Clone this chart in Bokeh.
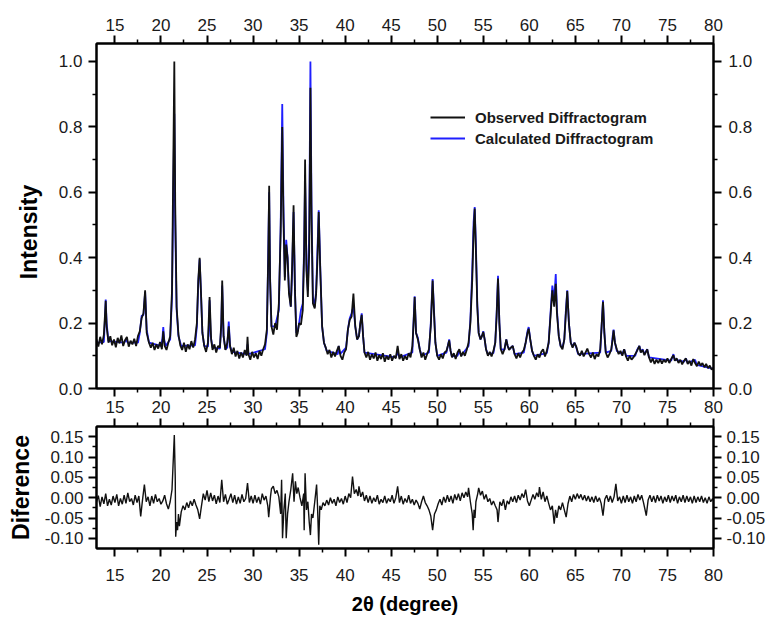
from bokeh.plotting import figure
from bokeh.layouts import column
from bokeh.models import (LinearAxis, Range1d, FixedTicker, Legend, LegendItem,
                          PrintfTickFormatter)
from bokeh.embed import file_html
from bokeh.resources import INLINE

# ---------------- data ----------------
x_ticks = [15, 20, 25, 30, 35, 40, 45, 50, 55, 60, 65, 70, 75, 80]
x_minor = [17.5, 22.5, 27.5, 32.5, 37.5, 42.5, 47.5, 52.5, 57.5, 62.5, 67.5, 72.5, 77.5]
int_ticks = [0.0, 0.2, 0.4, 0.6, 0.8, 1.0]
int_minor = [0.1, 0.3, 0.5, 0.7, 0.9]
diff_ticks = [-0.10, -0.05, 0.00, 0.05, 0.10, 0.15]
diff_minor = [-0.075, -0.025, 0.025, 0.075, 0.125]

observed = [
    (13.0, 0.150), (13.2, 0.128), (13.4, 0.158), (13.6, 0.135), (13.8, 0.165), (13.9, 0.215), (14.0, 0.268), (14.1, 0.190), (14.3, 0.140), (14.5, 0.160),
    (14.7, 0.132), (14.9, 0.150), (15.1, 0.126), (15.3, 0.155), (15.5, 0.138), (15.7, 0.162), (15.9, 0.130), (16.1, 0.148), (16.3, 0.158), (16.5, 0.128),
    (16.7, 0.146), (16.9, 0.135), (17.1, 0.152), (17.3, 0.130), (17.5, 0.160), (17.7, 0.175), (17.9, 0.215), (18.1, 0.230), (18.28, 0.300), (18.45, 0.170),
    (18.7, 0.140), (18.9, 0.125), (19.1, 0.140), (19.3, 0.118), (19.5, 0.135), (19.7, 0.122), (19.9, 0.142), (20.1, 0.120), (20.25, 0.175), (20.4, 0.130),
    (20.6, 0.118), (20.8, 0.140), (21.0, 0.160), (21.2, 0.300), (21.35, 0.720), (21.45, 1.000), (21.55, 0.560), (21.7, 0.250), (21.9, 0.165), (22.1, 0.132),
    (22.3, 0.118), (22.5, 0.140), (22.7, 0.112), (22.9, 0.135), (23.1, 0.120), (23.3, 0.145), (23.5, 0.125), (23.7, 0.150), (23.9, 0.200), (24.05, 0.330),
    (24.2, 0.400), (24.35, 0.290), (24.5, 0.170), (24.7, 0.130), (24.9, 0.112), (25.1, 0.140), (25.28, 0.280), (25.45, 0.150), (25.6, 0.118), (25.8, 0.135),
    (26.0, 0.110), (26.2, 0.130), (26.4, 0.125), (26.55, 0.200), (26.65, 0.330), (26.8, 0.160), (27.0, 0.118), (27.2, 0.140), (27.36, 0.190), (27.5, 0.130),
    (27.7, 0.105), (27.9, 0.125), (28.1, 0.098), (28.3, 0.115), (28.5, 0.092), (28.7, 0.110), (28.9, 0.095), (29.1, 0.118), (29.3, 0.100), (29.4, 0.158),
    (29.5, 0.105), (29.7, 0.088), (29.9, 0.112), (30.1, 0.095), (30.3, 0.108), (30.5, 0.090), (30.7, 0.115), (30.9, 0.100), (31.1, 0.120), (31.3, 0.135),
    (31.5, 0.180), (31.65, 0.400), (31.75, 0.620), (31.85, 0.330), (32.0, 0.190), (32.2, 0.165), (32.4, 0.200), (32.6, 0.180), (32.8, 0.260), (33.0, 0.480),
    (33.17, 0.800), (33.3, 0.520), (33.45, 0.330), (33.6, 0.440), (33.75, 0.400), (33.9, 0.290), (34.1, 0.250), (34.25, 0.380), (34.4, 0.560), (34.55, 0.300),
    (34.7, 0.158), (34.85, 0.170), (35.0, 0.200), (35.2, 0.195), (35.4, 0.240), (35.55, 0.420), (35.65, 0.700), (35.8, 0.360), (35.95, 0.280), (36.1, 0.420),
    (36.23, 0.920), (36.35, 0.520), (36.5, 0.260), (36.7, 0.245), (36.85, 0.290), (37.0, 0.400), (37.13, 0.540), (37.3, 0.360), (37.5, 0.190), (37.7, 0.140),
    (37.9, 0.125), (38.1, 0.105),
    (38.3, 0.118), (38.5, 0.095), (38.7, 0.112), (38.9, 0.098), (39.1, 0.115), (39.3, 0.130), (39.5, 0.100), (39.7, 0.088), (39.9, 0.110), (40.1, 0.120),
    (40.3, 0.180), (40.5, 0.210), (40.7, 0.220), (40.9, 0.290), (41.1, 0.190), (41.3, 0.150), (41.5, 0.160), (41.65, 0.200), (41.8, 0.225), (41.95, 0.160),
    (42.1, 0.110), (42.3, 0.095), (42.5, 0.112), (42.7, 0.088), (42.9, 0.105), (43.1, 0.092), (43.3, 0.110), (43.5, 0.085), (43.7, 0.102), (43.9, 0.090),
    (44.1, 0.108), (44.3, 0.082), (44.5, 0.100), (44.7, 0.088), (44.9, 0.105), (45.1, 0.085), (45.3, 0.100), (45.5, 0.092), (45.7, 0.130), (45.9, 0.090),
    (46.1, 0.105), (46.3, 0.085), (46.5, 0.100), (46.7, 0.088), (46.9, 0.108), (47.1, 0.095), (47.3, 0.130), (47.45, 0.210), (47.55, 0.280), (47.7, 0.170),
    (47.9, 0.150), (48.1, 0.120), (48.3, 0.095), (48.5, 0.110), (48.7, 0.088), (48.9, 0.105), (49.1, 0.120), (49.3, 0.190), (49.5, 0.330), (49.65, 0.230),
    (49.8, 0.140), (50.0, 0.100), (50.2, 0.088), (50.4, 0.105), (50.6, 0.092), (50.8, 0.110), (51.0, 0.115), (51.15, 0.130), (51.3, 0.147), (51.45, 0.115),
    (51.6, 0.095), (51.8, 0.108), (52.0, 0.090), (52.2, 0.110), (52.4, 0.120), (52.6, 0.098), (52.8, 0.112), (53.0, 0.100), (53.2, 0.118), (53.4, 0.140),
    (53.6, 0.200), (53.8, 0.330), (53.95, 0.480), (54.07, 0.550), (54.2, 0.420), (54.35, 0.250), (54.5, 0.170), (54.7, 0.150), (54.85, 0.160), (55.0, 0.173),
    (55.15, 0.150), (55.3, 0.120), (55.5, 0.100), (55.7, 0.112), (55.9, 0.098), (56.1, 0.115), (56.3, 0.140), (56.45, 0.220), (56.6, 0.336), (56.75, 0.200),
    (56.9, 0.120), (57.1, 0.105), (57.3, 0.120), (57.5, 0.150), (57.65, 0.130), (57.8, 0.118), (58.0, 0.125), (58.2, 0.130), (58.4, 0.105), (58.6, 0.092),
    (58.8, 0.108), (59.0, 0.095), (59.2, 0.110), (59.4, 0.118), (59.6, 0.140), (59.8, 0.170), (59.93, 0.183), (60.1, 0.150), (60.3, 0.115), (60.5, 0.100),
    (60.7, 0.088), (60.9, 0.105), (61.1, 0.095), (61.3, 0.112), (61.5, 0.120), (61.7, 0.098), (61.9, 0.115), (62.1, 0.140), (62.3, 0.220), (62.5, 0.300),
    (62.7, 0.250), (62.87, 0.320), (63.0, 0.230), (63.2, 0.160), (63.4, 0.130), (63.6, 0.120), (63.8, 0.150), (63.95, 0.220), (64.12, 0.298), (64.3, 0.200),
    (64.5, 0.140), (64.7, 0.125), (64.9, 0.140), (65.1, 0.128), (65.3, 0.108), (65.5, 0.100), (65.7, 0.115), (65.9, 0.098), (66.1, 0.110), (66.3, 0.122),
    (66.5, 0.105), (66.7, 0.095), (66.9, 0.110), (67.1, 0.090), (67.3, 0.105), (67.5, 0.098), (67.7, 0.120), (67.85, 0.190), (68.0, 0.265), (68.15, 0.170),
    (68.3, 0.110), (68.5, 0.095), (68.7, 0.105), (68.9, 0.120), (69.05, 0.150), (69.15, 0.178), (69.3, 0.140), (69.5, 0.120), (69.7, 0.105), (69.9, 0.115),
    (70.1, 0.100), (70.3, 0.120), (70.5, 0.098), (70.7, 0.085), (70.9, 0.100), (71.1, 0.088), (71.3, 0.095), (71.5, 0.105), (71.7, 0.115), (71.95, 0.130),
    (72.1, 0.110), (72.3, 0.118), (72.5, 0.102), (72.8, 0.120), (73.0, 0.095), (73.2, 0.080), (73.4, 0.092), (73.6, 0.075), (73.8, 0.088), (74.0, 0.078),
    (74.2, 0.090), (74.4, 0.076), (74.6, 0.088), (74.8, 0.080), (75.0, 0.092), (75.2, 0.078), (75.4, 0.090), (75.65, 0.102), (75.8, 0.085), (76.0, 0.092),
    (76.2, 0.078), (76.4, 0.088), (76.6, 0.074), (76.8, 0.085), (77.0, 0.092), (77.2, 0.075), (77.4, 0.085), (77.6, 0.070), (77.8, 0.090), (78.0, 0.078),
    (78.2, 0.068), (78.4, 0.082), (78.6, 0.070), (78.8, 0.078), (79.0, 0.065), (79.2, 0.075), (79.4, 0.062), (79.6, 0.070), (79.8, 0.058), (80.0, 0.064),
]

calculated = [
    (13.0, 0.140), (13.8, 0.142), (13.9, 0.200), (14.0, 0.272), (14.1, 0.200), (14.3, 0.145), (16.0, 0.140), (16.2, 0.150), (16.4, 0.140), (17.5, 0.140),
    (17.7, 0.170), (17.9, 0.222), (18.1, 0.225), (18.28, 0.295), (18.45, 0.180), (18.7, 0.140), (20.0, 0.130), (20.15, 0.150), (20.25, 0.188), (20.35, 0.150),
    (20.5, 0.130), (21.0, 0.150), (21.2, 0.280), (21.35, 0.620), (21.45, 0.840), (21.55, 0.500), (21.7, 0.240), (21.9, 0.160), (22.2, 0.130), (23.7, 0.132),
    (23.9, 0.190), (24.05, 0.320), (24.2, 0.395), (24.35, 0.290), (24.5, 0.170), (24.7, 0.130), (25.1, 0.128), (25.2, 0.190), (25.28, 0.270), (25.4, 0.160),
    (25.6, 0.125), (26.4, 0.122), (26.55, 0.190), (26.65, 0.315), (26.8, 0.160), (27.0, 0.120), (27.2, 0.125), (27.36, 0.205), (27.5, 0.130), (27.7, 0.112),
    (29.3, 0.105), (29.4, 0.135), (29.5, 0.105), (31.3, 0.120), (31.5, 0.170), (31.65, 0.420), (31.75, 0.600), (31.85, 0.340), (32.0, 0.190), (32.4, 0.190),
    (32.8, 0.240), (33.0, 0.500), (33.17, 0.870), (33.3, 0.560), (33.45, 0.340), (33.6, 0.455), (33.75, 0.400), (33.9, 0.300), (34.1, 0.250), (34.25, 0.360),
    (34.4, 0.540), (34.55, 0.300), (34.7, 0.170), (34.85, 0.175), (35.0, 0.200), (35.2, 0.240), (35.4, 0.260), (35.55, 0.440), (35.65, 0.640), (35.8, 0.380),
    (35.95, 0.300), (36.1, 0.480), (36.23, 1.000), (36.35, 0.560), (36.5, 0.280), (36.7, 0.250), (36.85, 0.300), (37.0, 0.430), (37.13, 0.545), (37.3, 0.370),
    (37.5, 0.190), (37.7, 0.140), (38.0, 0.115), (39.2, 0.105), (39.3, 0.130), (39.45, 0.105), (40.1, 0.125), (40.3, 0.180), (40.5, 0.215), (40.7, 0.230),
    (40.9, 0.250), (41.1, 0.190), (41.3, 0.150), (41.5, 0.160), (41.65, 0.200), (41.8, 0.230), (41.95, 0.160), (42.1, 0.110), (45.5, 0.095), (45.7, 0.112),
    (45.9, 0.095), (47.3, 0.110), (47.45, 0.220), (47.55, 0.282), (47.7, 0.170), (47.9, 0.155), (48.1, 0.120), (48.3, 0.100), (49.1, 0.110), (49.3, 0.200),
    (49.5, 0.335), (49.65, 0.240), (49.8, 0.140), (50.0, 0.100), (51.0, 0.110), (51.15, 0.130), (51.3, 0.150), (51.45, 0.115), (51.6, 0.098), (52.2, 0.100),
    (52.4, 0.115), (52.6, 0.100), (53.4, 0.130), (53.6, 0.210), (53.8, 0.360), (53.95, 0.510), (54.07, 0.555), (54.2, 0.440), (54.35, 0.260), (54.5, 0.170),
    (54.7, 0.150), (54.85, 0.160), (55.0, 0.175), (55.15, 0.150), (55.3, 0.120), (55.5, 0.105), (56.1, 0.108), (56.3, 0.140), (56.45, 0.230), (56.6, 0.345),
    (56.75, 0.200), (56.9, 0.120), (57.3, 0.118), (57.5, 0.150), (57.65, 0.130), (57.8, 0.120), (58.2, 0.130), (58.4, 0.105), (59.4, 0.110), (59.6, 0.140),
    (59.8, 0.175), (59.93, 0.188), (60.1, 0.150), (60.3, 0.115), (60.5, 0.100), (61.9, 0.108), (62.1, 0.140), (62.3, 0.230), (62.5, 0.315), (62.7, 0.270),
    (62.87, 0.350), (63.0, 0.240), (63.2, 0.160), (63.4, 0.130), (63.6, 0.125), (63.8, 0.150), (63.95, 0.230), (64.12, 0.300), (64.3, 0.200), (64.5, 0.140),
    (64.7, 0.128), (64.9, 0.140), (65.1, 0.125), (65.3, 0.105), (67.7, 0.110), (67.85, 0.190), (68.0, 0.270), (68.15, 0.170), (68.3, 0.110), (68.9, 0.115),
    (69.05, 0.160), (69.15, 0.180), (69.3, 0.140), (69.5, 0.115), (70.1, 0.105), (70.3, 0.120), (70.5, 0.100), (71.5, 0.100), (71.7, 0.118), (71.95, 0.130),
    (72.1, 0.112), (72.3, 0.120), (72.5, 0.105), (72.8, 0.120), (73.0, 0.095), (75.4, 0.085), (75.65, 0.105), (75.8, 0.088), (76.8, 0.082), (77.0, 0.092),
    (77.2, 0.078), (77.8, 0.085), (78.0, 0.088), (78.2, 0.072), (80.0, 0.060),
]

difference = [
    (13.0, -0.010), (13.2, 0.005), (13.4, -0.022), (13.6, 0.002), (13.8, -0.015), (14.0, 0.010), (14.2, -0.020), (14.4, -0.004), (14.6, -0.018), (14.8, 0.004),
    (15.0, -0.012), (15.2, 0.008), (15.4, -0.020), (15.6, -0.002), (15.8, -0.016), (16.0, 0.006), (16.2, -0.014), (16.4, 0.012), (16.6, -0.010), (16.8, -0.002),
    (17.0, -0.018), (17.2, 0.006), (17.4, -0.012), (17.6, 0.004), (17.8, -0.046), (18.0, -0.005), (18.2, 0.032), (18.4, -0.010), (18.6, 0.002), (18.8, -0.020),
    (19.0, 0.004), (19.2, -0.014), (19.4, 0.008), (19.6, -0.010), (19.8, -0.002), (20.0, -0.016), (20.2, -0.008), (20.4, 0.006), (20.6, -0.015), (20.8, -0.028),
    (21.0, -0.010), (21.2, 0.020), (21.35, 0.100), (21.45, 0.154), (21.55, 0.050), (21.6, -0.096), (21.7, -0.060), (21.8, -0.080), (21.9, -0.040), (22.0, -0.070),
    (22.2, -0.035), (22.4, -0.020), (22.6, -0.030), (22.8, -0.012), (23.0, -0.025), (23.2, -0.008), (23.4, -0.020), (23.6, -0.004), (23.8, -0.018), (24.0, -0.030),
    (24.2, -0.052), (24.4, -0.020), (24.6, 0.010), (24.8, -0.006), (25.0, 0.018), (25.2, -0.010), (25.4, 0.012), (25.6, -0.008), (25.8, 0.006), (26.0, -0.015),
    (26.2, 0.004), (26.4, -0.012), (26.6, 0.044), (26.8, -0.010), (27.0, 0.008), (27.2, -0.016), (27.4, -0.004), (27.6, 0.010), (27.8, -0.012), (28.0, 0.006),
    (28.2, -0.016), (28.4, 0.002), (28.6, -0.014), (28.8, 0.008), (29.0, -0.010), (29.2, -0.002), (29.4, 0.036), (29.6, -0.012), (29.8, 0.004), (30.0, -0.014),
    (30.2, 0.006), (30.4, -0.012), (30.6, 0.002), (30.8, -0.016), (31.0, 0.010), (31.2, -0.006), (31.4, 0.004), (31.6, -0.020), (31.7, -0.048), (31.9, 0.004),
    (32.0, 0.022), (32.2, 0.028), (32.4, 0.010), (32.6, 0.018), (32.8, 0.002), (33.0, -0.040), (33.1, 0.044), (33.2, -0.100), (33.35, -0.030), (33.5, 0.010),
    (33.6, -0.100), (33.75, -0.040), (33.9, -0.010), (34.1, 0.020), (34.3, 0.060), (34.45, -0.010), (34.6, 0.040), (34.75, 0.010), (34.9, 0.025), (35.1, 0.000),
    (35.3, -0.020), (35.5, 0.010), (35.55, -0.080), (35.65, 0.060), (35.8, -0.030), (35.95, -0.010), (36.1, -0.060), (36.23, -0.092), (36.35, -0.040), (36.5, -0.050),
    (36.7, -0.010), (36.9, 0.032), (37.0, -0.020), (37.13, -0.116), (37.25, -0.020), (37.4, -0.030), (37.6, -0.012), (37.8, -0.020), (38.0, -0.006),
    (38.2, -0.018), (38.4, 0.000), (38.6, -0.014), (38.8, -0.004), (39.0, -0.020), (39.2, 0.002), (39.4, -0.012), (39.6, -0.002), (39.8, -0.016), (40.0, 0.004),
    (40.2, -0.012), (40.4, 0.010), (40.6, 0.000), (40.8, 0.052), (41.0, 0.010), (41.2, 0.020), (41.4, 0.004), (41.5, 0.028), (41.7, 0.002), (41.9, 0.014),
    (42.1, -0.008), (42.3, 0.006), (42.5, -0.012), (42.7, 0.004), (42.9, -0.014), (43.1, 0.000), (43.3, -0.010), (43.5, 0.006), (43.7, -0.016), (43.9, -0.004),
    (44.1, -0.012), (44.3, 0.004), (44.5, -0.014), (44.7, -0.002), (44.9, -0.010), (45.1, 0.006), (45.3, -0.014), (45.5, 0.000), (45.7, 0.028), (45.9, -0.012),
    (46.1, 0.004), (46.3, -0.016), (46.5, -0.002), (46.7, -0.012), (46.9, 0.006), (47.1, -0.014), (47.3, -0.004), (47.5, -0.018), (47.7, -0.006), (47.9, -0.014),
    (48.1, -0.028), (48.3, -0.010), (48.5, 0.004), (48.7, -0.012), (48.9, -0.020), (49.1, -0.030), (49.3, -0.045), (49.5, -0.080), (49.7, -0.040), (49.9, -0.030),
    (50.1, -0.015), (50.3, -0.004), (50.5, -0.018), (50.7, 0.002), (50.9, -0.012), (51.1, 0.006), (51.3, -0.010), (51.5, 0.004), (51.7, -0.014), (51.9, 0.008),
    (52.1, -0.006), (52.3, 0.010), (52.5, -0.008), (52.7, 0.012), (52.9, 0.000), (53.1, 0.014), (53.3, 0.002), (53.4, 0.024), (53.6, -0.010), (53.8, -0.040),
    (53.9, -0.080), (54.0, -0.030), (54.1, -0.050), (54.2, -0.010), (54.4, 0.010), (54.5, 0.024), (54.7, 0.006), (54.9, 0.016), (55.1, -0.004), (55.3, 0.008),
    (55.5, -0.010), (55.7, -0.002), (55.9, -0.018), (56.1, -0.008), (56.3, -0.020), (56.5, -0.030), (56.6, -0.060), (56.8, -0.010), (57.0, -0.020), (57.2, -0.004),
    (57.4, -0.030), (57.6, -0.008), (57.8, -0.016), (58.0, 0.002), (58.2, -0.010), (58.4, 0.004), (58.6, -0.012), (58.8, 0.006), (59.0, -0.006), (59.2, 0.010),
    (59.4, 0.000), (59.6, 0.020), (59.8, -0.008), (60.0, -0.020), (60.2, -0.006), (60.4, 0.008), (60.6, -0.004), (60.8, 0.012), (61.0, 0.002), (61.1, 0.026),
    (61.3, -0.004), (61.5, 0.014), (61.7, -0.010), (61.9, 0.004), (62.1, -0.014), (62.3, -0.030), (62.5, -0.020), (62.7, -0.064), (62.85, -0.030), (63.0, -0.050),
    (63.2, -0.020), (63.4, -0.030), (63.6, -0.012), (63.8, -0.030), (64.0, -0.048), (64.2, -0.015), (64.4, 0.004), (64.6, -0.010), (64.8, 0.008), (65.0, -0.004),
    (65.2, 0.010), (65.4, -0.002), (65.6, 0.008), (65.8, -0.006), (66.0, 0.006), (66.2, -0.008), (66.4, 0.004), (66.6, -0.010), (66.8, 0.002), (67.0, -0.012),
    (67.2, 0.004), (67.4, -0.010), (67.6, 0.000), (67.8, -0.014), (68.0, -0.044), (68.2, -0.004), (68.4, 0.006), (68.6, -0.010), (68.8, 0.004), (69.0, -0.012),
    (69.2, 0.002), (69.4, 0.034), (69.6, -0.008), (69.8, 0.002), (70.0, -0.014), (70.2, 0.004), (70.4, -0.012), (70.6, 0.006), (70.8, -0.010), (71.0, 0.002),
    (71.2, -0.014), (71.4, 0.004), (71.6, -0.010), (71.8, 0.008), (72.0, -0.006), (72.2, 0.006), (72.4, -0.012), (72.7, -0.044), (72.9, -0.006), (73.1, 0.006),
    (73.3, -0.010), (73.5, 0.004), (73.7, -0.012), (73.9, 0.006), (74.1, -0.008), (74.3, 0.004), (74.5, -0.014), (74.7, 0.002), (74.9, -0.010), (75.1, 0.006),
    (75.3, -0.012), (75.5, 0.004), (75.7, -0.008), (75.9, 0.006), (76.1, -0.014), (76.3, 0.002), (76.5, -0.010), (76.7, 0.006), (76.9, -0.012), (77.1, 0.004),
    (77.3, -0.010), (77.5, 0.002), (77.7, -0.014), (77.9, 0.004), (78.1, -0.012), (78.3, 0.002), (78.5, -0.010), (78.7, 0.004), (78.9, -0.012), (79.1, 0.000),
    (79.3, -0.014), (79.5, 0.002), (79.7, -0.010), (79.9, -0.002), (80.0, -0.008),
]

legend_labels = ["Observed Diffractogram", "Calculated Diffractogram"]

# ---------------- styling ----------------
FONT = "Liberation Sans"
TICK_COLOR = "#1a1a1a"
OBS_COLOR = "#111111"
CALC_COLOR = "#1f1fff"
NBSP = "\u00a0"


def style_axis(ax, ticks, minor, fmt=None, labels=True, standoff=6):
    ax.ticker = FixedTicker(ticks=ticks, minor_ticks=minor)
    if fmt:
        ax.formatter = PrintfTickFormatter(format=fmt)
    ax.axis_line_width = 2
    ax.axis_line_color = "black"
    ax.major_tick_line_width = 2
    ax.minor_tick_line_width = 1.5
    ax.major_tick_out = 8
    ax.major_tick_in = 0
    ax.minor_tick_out = 4
    ax.minor_tick_in = 0
    ax.major_label_text_font = FONT
    if labels:
        ax.major_label_text_color = TICK_COLOR
        ax.major_label_text_font_size = "17px"
        ax.major_label_standoff = standoff
    else:
        # tick marks only: labels are not painted
        ax.major_label_text_color = None
        ax.major_label_text_font_size = "1px"
        ax.major_label_standoff = 0
    ax.axis_label_text_font = FONT
    ax.axis_label_text_font_style = "bold"
    ax.axis_label_text_color = "black"


# ---------------- top panel ----------------
p1 = figure(width=768, height=417, x_range=Range1d(13, 80), y_range=Range1d(0, 1.055),
            output_backend="svg", toolbar_location=None,
            min_border_left=96, min_border_right=50, min_border_top=43, min_border_bottom=29)
p1.xgrid.visible = False
p1.ygrid.visible = False
p1.outline_line_color = "black"
p1.outline_line_width = 2
p1.background_fill_color = "white"
p1.border_fill_color = "white"

style_axis(p1.xaxis[0], x_ticks, x_minor, labels=True, standoff=4)
style_axis(p1.yaxis[0], int_ticks, int_minor, fmt="%.1f", standoff=6)
# trailing no-break spaces move the label slightly below the frame centre, as in the reference
p1.yaxis[0].axis_label = "Intensity" + NBSP * 5
p1.yaxis[0].axis_label_text_font_size = "23px"
p1.yaxis[0].axis_label_standoff = 14

ax_top = LinearAxis()
style_axis(ax_top, x_ticks, x_minor, standoff=5)
p1.add_layout(ax_top, "above")
ax_right = LinearAxis()
style_axis(ax_right, int_ticks, int_minor, fmt="%.1f", standoff=7)
p1.add_layout(ax_right, "right")

r_calc = p1.line([pt[0] for pt in calculated], [pt[1] for pt in calculated],
                 line_color=CALC_COLOR, line_width=1.8)
r_obs = p1.line([pt[0] for pt in observed], [pt[1] for pt in observed],
                line_color=OBS_COLOR, line_width=1.8)

legend = Legend(items=[LegendItem(label=legend_labels[0], renderers=[r_obs]),
                       LegendItem(label=legend_labels[1], renderers=[r_calc])],
                location=(334, 240))
legend.label_text_font = FONT
legend.label_text_font_style = "bold"
legend.label_text_font_size = "15px"
legend.label_text_color = "#1a1a1a"
legend.glyph_width = 35
legend.glyph_height = 20
legend.label_height = 20
legend.label_standoff = 10
legend.spacing = 1
legend.padding = 0
legend.margin = 0
legend.background_fill_alpha = 0
legend.border_line_alpha = 0
p1.add_layout(legend)

# ---------------- bottom panel ----------------
p2 = figure(width=768, height=200, x_range=p1.x_range, y_range=Range1d(-0.125, 0.175),
            output_backend="svg", toolbar_location=None,
            min_border_left=96, min_border_right=50, min_border_top=9, min_border_bottom=67)
p2.xgrid.visible = False
p2.ygrid.visible = False
p2.outline_line_color = "black"
p2.outline_line_width = 2

style_axis(p2.xaxis[0], x_ticks, x_minor, standoff=12)
p2.xaxis[0].axis_label = "2θ (degree)"
p2.xaxis[0].axis_label_text_font_size = "20px"
p2.xaxis[0].axis_label_standoff = 9
style_axis(p2.yaxis[0], diff_ticks, diff_minor, fmt="%.2f", standoff=5)
p2.yaxis[0].axis_label = "Diference"
p2.yaxis[0].axis_label_text_font_size = "23px"
p2.yaxis[0].axis_label_standoff = 8

ax_top2 = LinearAxis()
style_axis(ax_top2, x_ticks, x_minor, labels=False)
p2.add_layout(ax_top2, "above")
ax_right2 = LinearAxis()
style_axis(ax_right2, diff_ticks, diff_minor, fmt="%.2f", standoff=5)
p2.add_layout(ax_right2, "right")

p2.line([pt[0] for pt in difference], [pt[1] for pt in difference],
        line_color=OBS_COLOR, line_width=1.4)

layout = column(p1, p2, spacing=0)
open("out.html", "w").write(file_html(layout, INLINE))
